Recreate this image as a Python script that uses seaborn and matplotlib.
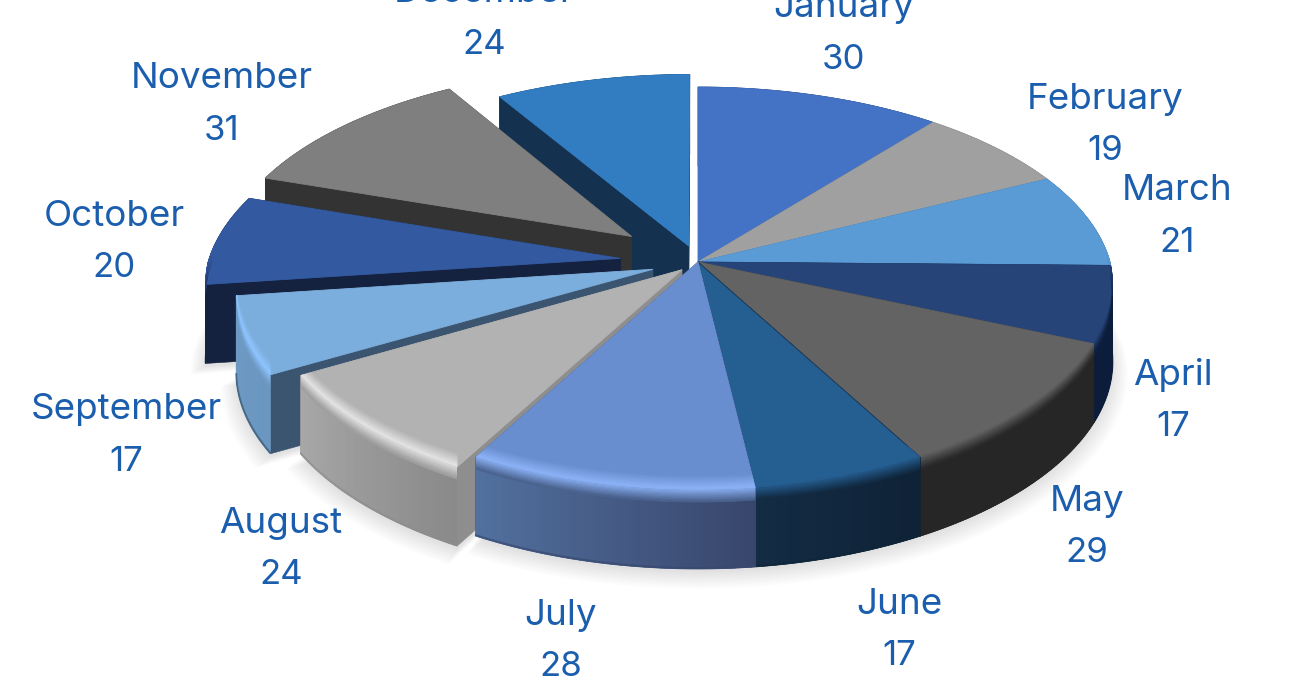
import numpy as np
import matplotlib
matplotlib.use("Agg")
import matplotlib.pyplot as plt
from matplotlib.collections import PolyCollection
from matplotlib.colors import to_rgb
from matplotlib.patches import Polygon
import seaborn as sns

months = ["January", "February", "March", "April", "May", "June", "July",
          "August", "September", "October", "November", "December"]
values = [30, 19, 21, 17, 29, 17, 28, 24, 17, 20, 31, 24]

# how far each slice is pulled out of the pie
explode = [0, 0, 0, 0, 0, 0, 0, 0.055, 0.115, 0.19, 0.21, 0.085]

top_colors = ["#4472C4", "#A0A0A0", "#5B9BD5", "#264478", "#636363", "#255E91",
              "#698ED0", "#B2B2B2", "#7CAEDD", "#335AA1", "#7F7F7F", "#327DC2"]
face_colors = ["#1F3864", "#6A6A6A", "#2F5F8C", "#0C1C3B", "#262626", "#0F2538",
               "#38486F", "#8E8E8E", "#3B5570", "#14213F", "#333333", "#14324F"]
wall_start = ["#1F3864", "#6A6A6A", "#2F5F8C", "#0C1C3B", "#262626", "#0F2236",
              "#38466C", "#8A8A8A", "#6A96C0", "#14213F", "#333333", "#14324F"]
wall_end = ["#1F3864", "#6A6A6A", "#2F5F8C", "#0C1C3B", "#262626", "#132C44",
            "#52719F", "#A8A8A8", "#6D9AC4", "#14213F", "#333333", "#14324F"]
rim_colors = ["#4472C4", "#A0A0A0", "#5B9BD5", "#264478", "#636363", "#255E91",
              "#8DB4F8", "#E4E4E4", "#8FC5FF", "#3F6CC0", "#7F7F7F", "#327DC2"]

# label centres in pixels
label_x = [844, 1105, 1177, 1173, 1087, 899, 561, 281, 126, 114, 222, 484]
label_y = [8, 99, 191, 375, 501, 604, 615, 523, 410, 216, 79, -7]
LINE_GAP = 52
TEXT_COLOR = "#1B5EAE"

CX, CY = 698, 262
A, B, K, K_FRONT = 412, 198, 0.1316, 0.108
HEIGHT = 79

sns.set_theme(style="white")
plt.rcParams["font.family"] = ["Inter", "DejaVu Sans"]


def project(r, theta, shift_x, shift_y, z=0.0):
    x = r * np.sin(theta) + shift_x
    y = r * np.cos(theta) + shift_y
    w = 1 + K * y
    w_x = 1 + np.where(y > 0, K, K_FRONT) * y
    return np.column_stack([CX + A * x / w_x, CY - B * y / w + z])


def strip(ax, upper, lower, colors, zorder):
    quads = [[upper[i], upper[i + 1], lower[i + 1], lower[i]] for i in range(len(upper) - 1)]
    coll = PolyCollection(quads, facecolors=colors, edgecolors=colors,
                          linewidths=0.5, zorder=zorder)
    ax.add_collection(coll)
    return coll


fig, ax = plt.subplots(figsize=(13, 7), dpi=100)
fig.subplots_adjust(0, 0, 1, 1)
ax.set_xlim(0, 1300)
ax.set_ylim(700, 0)
ax.axis("off")

fractions = np.array(values) / sum(values)
ends = np.cumsum(fractions) * 2 * np.pi
starts = ends - fractions * 2 * np.pi
mids = (starts + ends) / 2
shift_x = np.array(explode) * np.sin(mids)
shift_y = np.array(explode) * np.cos(mids)

# soft shadow under every slice
for layer in range(10):
    for i in range(len(values)):
        t = np.linspace(starts[i], ends[i], 60)
        rim = project(1 + 0.004 * layer, t, shift_x[i], shift_y[i], HEIGHT + 3 + layer * 0.8)
        apex = project(0, np.array([mids[i]]), shift_x[i], shift_y[i], HEIGHT + 3)
        ax.fill(*np.vstack([apex, rim]).T, color="black", alpha=0.012, lw=0, zorder=1)

# far slices first so the near ones paint over them
depth = np.array([project(0.6, np.array([mids[i]]), shift_x[i], shift_y[i])[0, 1]
                  for i in range(len(values))])
rows_z = np.concatenate([np.linspace(-15, 0, 14), np.linspace(0, 12, 11)[1:]])
z = 2
for i in np.argsort(depth):
    t = np.linspace(starts[i], ends[i], max(int(np.degrees(ends[i] - starts[i])) * 2, 8))
    sx, sy = shift_x[i], shift_y[i]
    apex = project(0, np.array([mids[i]]), sx, sy)
    apex_low = project(0, np.array([mids[i]]), sx, sy, HEIGHT)

    for edge in (t[0], t[-1]):
        p = project(1, np.array([edge]), sx, sy)
        q = project(1, np.array([edge]), sx, sy, HEIGHT)
        ax.fill(*np.vstack([apex, p, q, apex_low]).T, color=face_colors[i], lw=0.4,
                ec=face_colors[i], zorder=z)
    z += 1

    # wall: plain base under the gradient so the column seams do not show
    rim_up = project(1, t, sx, sy)
    rim_low = project(1, t, sx, sy, HEIGHT)
    wall = sns.blend_palette([wall_start[i], wall_end[i]], len(t) - 1)
    wall_outline = np.vstack([rim_up, rim_low[::-1]])
    ax.fill(*wall_outline.T, color=wall[len(wall) // 2], lw=0, zorder=z)
    strip(ax, rim_up, rim_low, wall, z)
    z += 1

    # darker line along the foot of the wall
    foot = t[np.cos(t) < 0]
    if len(foot) > 2:
        ax.plot(*project(1, foot, sx, sy, HEIGHT - 1).T, color=face_colors[i], lw=1.4,
                alpha=0.7, zorder=z)

    edge_color = "#1C3A58" if months[i] == "June" else top_colors[i]
    top_outline = np.vstack([apex, rim_up])
    ax.fill(*top_outline.T, color=top_colors[i], ec=edge_color, lw=0.6, zorder=z)
    z += 1

    # bevel along the front of the rim, fading out towards the back;
    # the part above the rim stays on the top, the rest stays on the wall
    front = t[np.cos(t) < 0.08]
    if len(front) > 2:
        clip_top = Polygon(top_outline, transform=ax.transData)
        clip_wall = Polygon(wall_outline, transform=ax.transData)
        mid = front[:-1] + np.diff(front) / 2
        weight = np.clip(-np.cos(mid) * 5 + 0.3, 0, 1)[:, None]
        wall_mid = wall[len(wall) // 2]
        blend = np.array(sns.blend_palette([top_colors[i], rim_colors[i], wall_mid], len(rows_z)))
        base = np.array(to_rgb(top_colors[i]))
        for j in range(len(rows_z) - 1):
            cols = base + weight * (blend[j] - base)
            band = strip(ax, project(1, front, sx, sy, rows_z[j]),
                         project(1, front, sx, sy, rows_z[j + 1]), cols, z)
            band.set_clip_path(clip_top if rows_z[j] < 0 else clip_wall)
    z += 1

for i in range(len(values)):
    ax.text(label_x[i], label_y[i], months[i], ha="center", va="center",
            fontsize=26.5, color=TEXT_COLOR, zorder=z, clip_on=False)
    ax.text(label_x[i], label_y[i] + LINE_GAP, str(values[i]), ha="center", va="center",
            fontsize=25, color=TEXT_COLOR, zorder=z, clip_on=False)

fig.savefig("out.png", dpi=100, facecolor="white")
